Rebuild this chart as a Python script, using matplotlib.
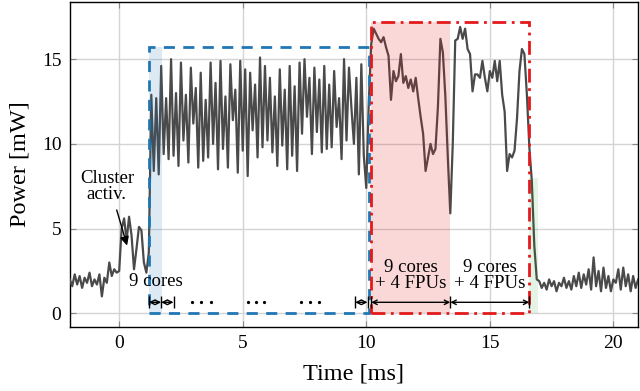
import numpy as np
import matplotlib
matplotlib.use("Agg")
import matplotlib.pyplot as plt
from matplotlib.patches import Rectangle

plt.rcParams["font.family"] = ["Liberation Serif", "DejaVu Serif"]
plt.rcParams["mathtext.fontset"] = "stix"

# power trace, sampled every 0.1 ms starting at -2.0 ms
t_start = -2.0
t_step = 0.1

idle_before = [2.0, 1.6, 2.3, 1.7, 2.2, 1.5, 2.1, 1.8, 2.4, 1.6,
               2.0, 1.7, 2.3, 1.0, 2.1, 1.8, 3.0, 2.2, 2.6, 2.4]
cluster_activ = [2.5, 5.0, 5.6, 4.3, 5.7, 4.6, 2.6, 3.8, 5.1, 4.9, 3.0, 2.4, 3.6]
cores_only = [12.9, 8.4, 12.7, 8.2, 14.6, 9.4, 12.7, 9.1, 15.0, 9.3,
              13.0, 8.7, 14.8, 10.2, 12.9, 8.9, 14.5, 11.2, 13.3, 8.6,
              14.2, 9.0, 12.6, 9.2, 14.8, 10.0, 13.6, 8.5, 14.9, 9.7,
              12.8, 8.6, 14.7, 11.4, 13.2, 8.3, 14.9, 9.6, 14.4, 8.1,
              14.2, 10.8, 13.5, 9.2, 15.1, 9.8, 14.6, 10.2, 13.9, 9.5,
              12.8, 8.7, 14.4, 9.9, 13.2, 8.5, 14.6, 9.3, 13.4, 8.4,
              14.8, 10.6, 15.0, 11.6, 13.9, 9.4, 14.5, 10.7, 13.8, 9.5,
              14.6, 9.7, 13.5, 9.8, 14.3, 11.0, 12.7, 9.1, 15.0, 10.2,
              14.5, 12.1, 10.0, 13.9, 8.2, 14.7, 9.3, 7.4, 12.4]
cores_fpus = [15.9, 16.8, 16.5, 16.2, 16.0, 16.3, 15.7, 15.2, 12.6, 14.3,
              13.7, 14.0, 15.3, 13.6, 14.0, 13.3, 13.8, 13.1, 13.9, 12.7,
              11.6, 10.6, 8.4, 9.2, 10.0, 9.4, 9.7, 12.2, 16.2, 15.4,
              12.8, 9.2, 5.9, 10.0, 16.1, 16.2, 16.9, 16.2, 16.8, 15.6,
              15.3, 13.1, 14.1, 14.1, 13.9, 14.9, 13.9, 13.1, 14.3, 13.9,
              14.9, 13.7, 14.9, 12.9, 11.9, 8.4, 9.4, 9.2, 9.6, 11.5,
              14.3, 15.6, 15.3, 12.9, 9.8, 7.8, 4.0, 2.0]
idle_after = [1.9, 1.5, 1.8, 1.4, 2.0, 1.6, 1.9, 1.3, 1.8, 1.6,
              2.1, 1.5, 1.9, 1.4, 2.2, 1.6, 2.4, 1.5, 2.3, 1.7,
              2.6, 1.4, 3.3, 1.6, 2.5, 1.3, 2.7, 1.5, 2.2, 1.3,
              2.0, 1.8, 2.6, 1.4, 2.7, 1.6, 2.3, 1.3, 2.2, 1.5, 2.0]

power = np.array(idle_before + cluster_activ + cores_only + cores_fpus + idle_after)
time = t_start + t_step * np.arange(len(power))

# phase boxes (ms / mW)
box_cores = (1.2, 10.1, 15.7)
box_fpus = (10.2, 16.6, 17.2)
shade_blue = (1.2, 1.75, 15.7)
shade_red = (10.2, 13.4, 17.2)
shade_green = (16.6, 16.95, 8.0)

# dimension arrows
arrow_y = 0.65
small_spans = [(1.2, 1.7), (1.7, 2.2), (9.55, 10.05)]
big_spans = [(10.2, 13.4), (13.4, 16.6)]
dots_x = [2.96, 3.33, 3.7, 5.2, 5.53, 5.87, 7.36, 7.72, 8.1]

c_blue = "#1f77b4"
c_red = "#e31a1c"
c_green = "#2ca02c"

fig = plt.figure(figsize=(6.4, 3.91), dpi=100)
ax = fig.add_axes([0.109, 0.164, 0.888, 0.832])

ax.plot(time, power, color="#4a4a4a", lw=1.6, zorder=3)

for (x0, x1, h), c, a in [(shade_blue, c_blue, 0.15), (shade_red, c_red, 0.17),
                          (shade_green, c_green, 0.12)]:
    ax.add_patch(Rectangle((x0, 0), x1 - x0, h, facecolor=c, edgecolor="none",
                           alpha=a, zorder=4))

x0, x1, h = box_cores
ax.add_patch(Rectangle((x0, 0), x1 - x0, h, fill=False, edgecolor=c_blue,
                       lw=2, ls=(0, (4, 3)), zorder=5))
x0, x1, h = box_fpus
ax.add_patch(Rectangle((x0, 0), x1 - x0, h, fill=False, edgecolor=c_red,
                       lw=2, ls=(0, (5, 2, 1, 2)), zorder=6))

for a, b in small_spans + big_spans:
    ax.annotate("", xy=(b, arrow_y), xytext=(a, arrow_y),
                arrowprops=dict(arrowstyle="<->", lw=1, color="black",
                                shrinkA=0, shrinkB=0, mutation_scale=8),
                zorder=7)
ends = sorted(set([p for s in small_spans + big_spans for p in s]))
ax.plot(ends, [arrow_y] * len(ends), ls="none", marker="|", ms=9, mew=1,
        color="black", zorder=7)
ax.plot(dots_x, [arrow_y] * len(dots_x), ls="none", marker="o", ms=1.3,
        color="black", zorder=7)

ax.text(1.5, 1.85, "9 cores", ha="center", va="center", fontsize=13.5, zorder=8)
ax.text(11.8, 2.25, "9 cores\n+ 4 FPUs", ha="center", va="center",
        fontsize=13.5, linespacing=0.95, zorder=8)
ax.text(15.0, 2.25, "9 cores\n+ 4 FPUs", ha="center", va="center",
        fontsize=13.5, linespacing=0.95, zorder=8)

ax.text(-0.5, 7.5, "Cluster\nactiv.", ha="center", va="center",
        fontsize=13.5, linespacing=0.95, zorder=8)
ax.annotate("", xy=(0.32, 4.0), xytext=(-0.1, 6.1),
            arrowprops=dict(arrowstyle="-|>", lw=1, color="black",
                            shrinkA=0, shrinkB=0, mutation_scale=13),
            zorder=8)

ax.set_xlim(-2, 21)
ax.set_ylim(-0.8, 18.4)
ax.set_xticks([0, 5, 10, 15, 20])
ax.set_yticks([0, 5, 10, 15])
ax.grid(True, color="#d4d4d4", lw=1)
ax.set_axisbelow(True)
ax.tick_params(direction="in", length=4, color="#888888", labelsize=14,
               top=True, right=True, pad=6)
for s in ax.spines.values():
    s.set_linewidth(1)
ax.set_xlabel("Time [ms]", fontsize=17.5, labelpad=8)
ax.set_ylabel("Power [mW]", fontsize=17.5, labelpad=8)

fig.savefig("out.png", dpi=100)
